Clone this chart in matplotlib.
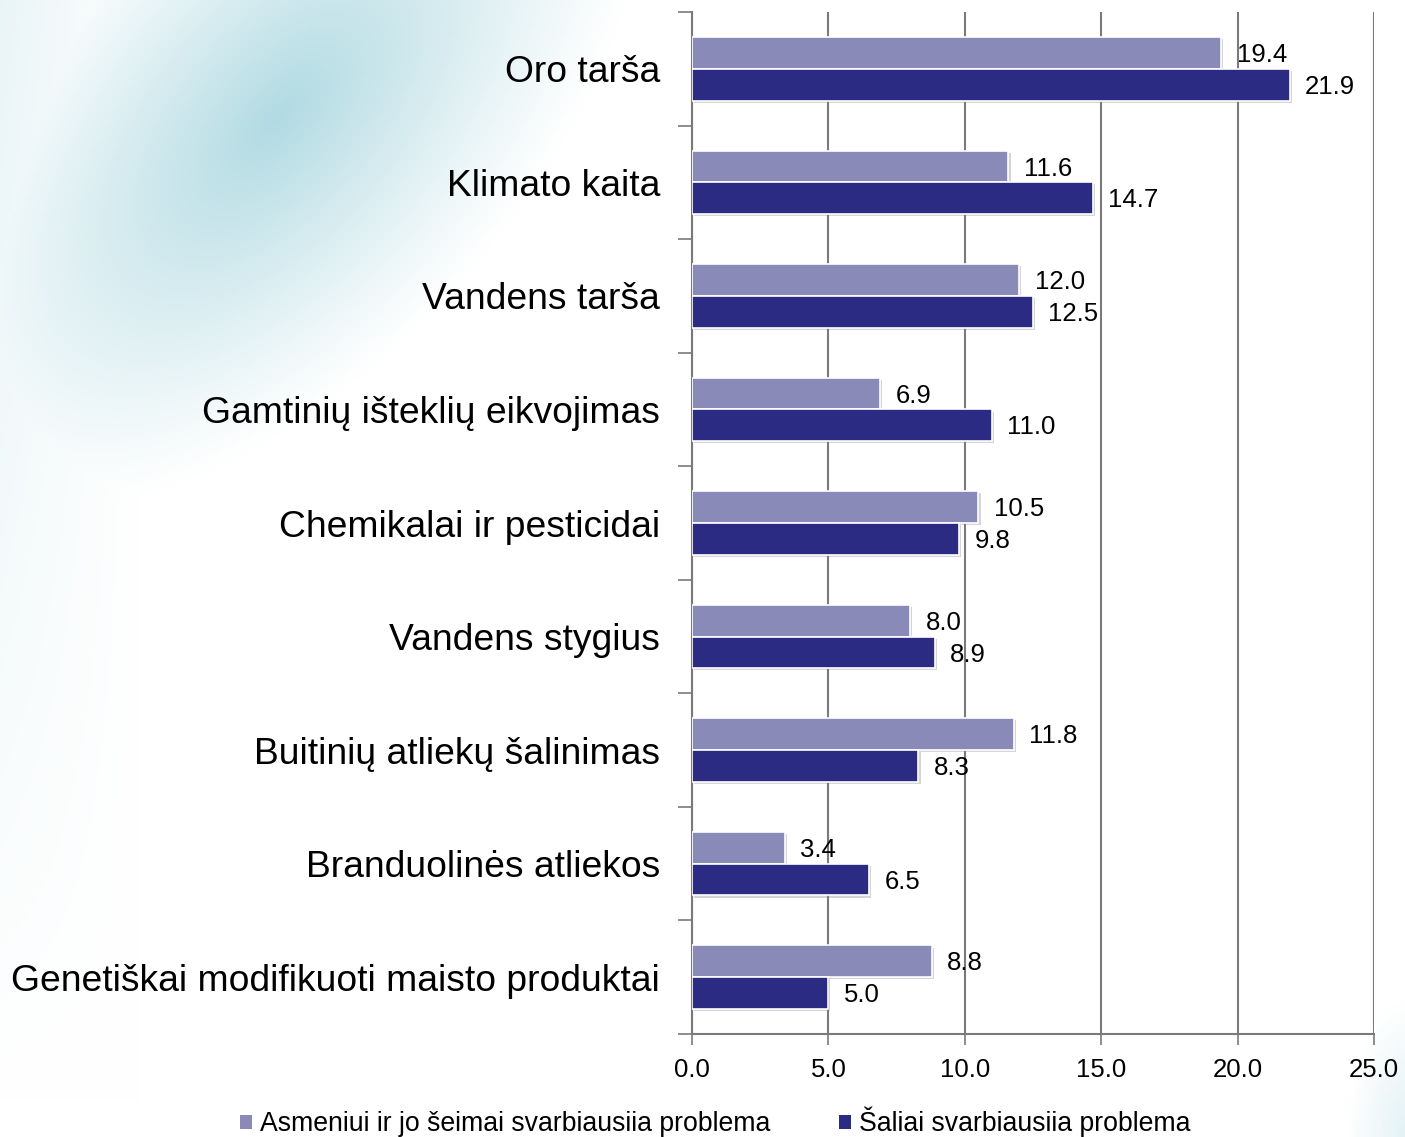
import numpy as np
import matplotlib
matplotlib.use("Agg")
import matplotlib.pyplot as plt
import matplotlib.patheffects as pe

plt.rcParams['font.family'] = ['Liberation Sans', 'DejaVu Sans']

categories = ["Oro tarša", "Klimato kaita", "Vandens tarša",
              "Gamtinių išteklių eikvojimas", "Chemikalai ir pesticidai",
              "Vandens stygius", "Buitinių atliekų šalinimas",
              "Branduolinės atliekos", "Genetiškai modifikuoti maisto produktai"]
personal = [19.4, 11.6, 12.0, 6.9, 10.5, 8.0, 11.8, 3.4, 8.8]
country = [21.9, 14.7, 12.5, 11.0, 9.8, 8.9, 8.3, 6.5, 5.0]
series_names = ["Asmeniui ir jo šeimai svarbiausiia problema",
                "Šaliai svarbiausiia problema"]

light = "#8A8AB8"
dark = "#2B2B84"

fig = plt.figure(figsize=(14.05, 11.37), dpi=100)

# background: soft teal wash in the top-left corner
bg = fig.add_axes([0, 0, 1, 1], zorder=-10)
h, w = 284, 351
yy, xx = np.mgrid[0:h, 0:w] * 4.0
# diagonal band running from top-middle down to the left edge
u = (xx + yy * 0.9 - 380) / 330
v = (xx - yy * 1.1 - 150) / 700
d = np.sqrt(u ** 2 + v ** 2)
t = np.clip(1 - d, 0, 1) ** 1.1 * 0.8
edge = np.clip(1 - xx / 140, 0, 1) * np.clip(1 - yy / 1100, 0, 1) * 0.22
t = np.maximum(t, edge)
d2 = np.sqrt(((1405 - xx) / 60) ** 2 + ((1137 - yy) / 140) ** 2)
t = np.maximum(t, np.clip(1 - d2, 0, 1) * 0.3)
teal = np.array([0.62, 0.82, 0.86])
white = np.array([1.0, 1.0, 1.0])
img = white * (1 - t[..., None]) + teal * t[..., None]
bg.imshow(img, aspect='auto', extent=[0, 1, 0, 1], origin='upper')
bg.axis('off')

ax = fig.add_axes([0.4925, 0.0906, 0.4855, 0.8988])
ax.set_facecolor('white')

n = len(categories)
centers = np.array([n - 0.5 - i for i in range(n)])
bh = 0.28
shadow = [pe.SimplePatchShadow(offset=(1.5, -1.5), shadow_rgbFace='#888888', alpha=0.35),
          pe.Normal()]
b1 = ax.barh(centers + bh / 2, personal, height=bh, color=light,
             edgecolor='white', linewidth=1.2, zorder=3, label=series_names[0])
b2 = ax.barh(centers - bh / 2, country, height=bh, color=dark,
             edgecolor='white', linewidth=1.2, zorder=3, label=series_names[1])
for b in list(b1) + list(b2):
    b.set_path_effects(shadow)

for bars, vals in [(b1, personal), (b2, country)]:
    for b, v in zip(bars, vals):
        ax.annotate("%.1f" % v, (v, b.get_y() + b.get_height() / 2),
                    xytext=(11, -1.5), textcoords='offset points',
                    ha='left', va='center', fontsize=18.5, zorder=5)

ax.set_xlim(0, 25)
ax.set_ylim(0, n)
ax.set_xticks(np.arange(0, 26, 5))
ax.set_xticklabels(["%.1f" % x for x in np.arange(0, 26, 5)], fontsize=18.5)
ax.xaxis.grid(True, color='#7a7a7a', linewidth=1.5, zorder=0)
ax.set_axisbelow(True)

ax.set_yticks(centers)
ax.set_yticklabels(categories, fontsize=26.8)
ax.set_yticks(np.arange(0, n + 1), minor=True)
ax.tick_params(axis='y', which='major', length=0, pad=23)
ax.tick_params(axis='y', which='minor', length=10, width=1.2, color='#7a7a7a')
ax.tick_params(axis='x', length=8, width=1.2, color='#7a7a7a', pad=9)

for s in ['top', 'right']:
    ax.spines[s].set_visible(False)
for s in ['left', 'bottom']:
    ax.spines[s].set_color('#7a7a7a')
    ax.spines[s].set_linewidth(1.5)

leg = fig.legend(handles=[b1, b2], labels=series_names, loc='center',
                 bbox_to_anchor=(0.509, 0.013), ncol=2, frameon=False, fontsize=19.2,
                 handlelength=0.45, handleheight=0.45, handletextpad=0.3,
                 columnspacing=2.6)
for hnd in leg.legend_handles:
    hnd.set_path_effects([])
    hnd.set_edgecolor('none')

fig.savefig("out.png", dpi=100)
